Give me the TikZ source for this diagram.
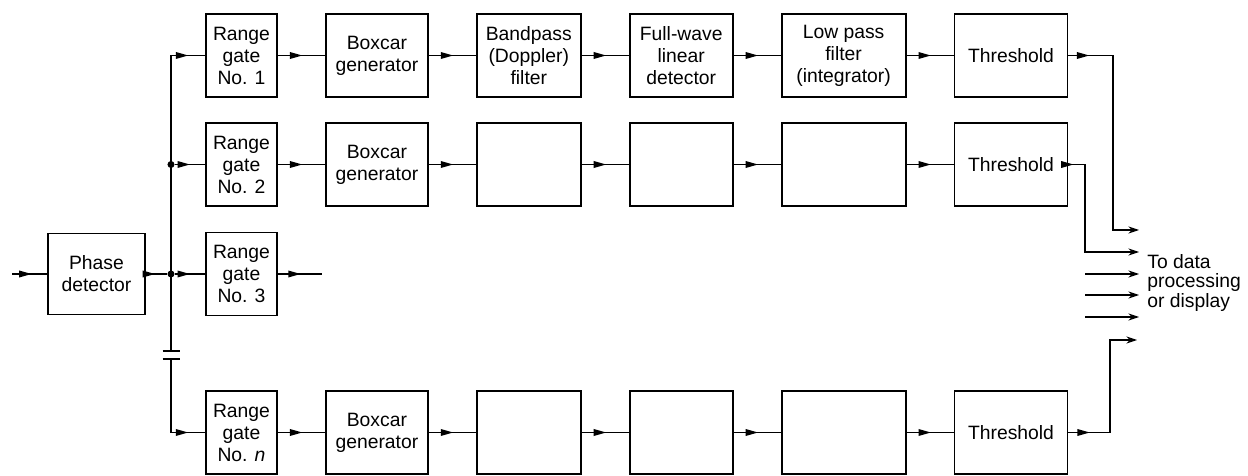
\documentclass[tikz,border=0pt]{standalone}
\usepackage{fontspec}
\setmainfont{Liberation Sans}
\usetikzlibrary{arrows.meta,positioning,shapes.geometric}
\tikzset{
  block/.style={rectangle,draw,line width=1.1pt,minimum height=1.66cm,align=center,inner sep=1pt,font=\fontsize{11}{12.5}\selectfont},
  gatebox/.style={block,minimum width=1.42cm},
  carbox/.style={block,minimum width=2.04cm},
  bandbox/.style={block,minimum width=2.08cm},
  wavebox/.style={block,minimum width=2.06cm},
  lowbox/.style={block,minimum width=2.48cm},
  thrbox/.style={block,minimum width=2.26cm},
  wire/.style={line width=0.7pt},
  tip/.style={isosceles triangle,isosceles triangle stretches,fill,draw=none,inner sep=0pt,minimum width=4pt,minimum height=7pt,anchor=apex,sloped,pos=#1},
  tip/.default=0.55,
  feed/.style={wire,-{Stealth[length=6pt,width=4pt]}},
  junction/.style={circle,fill,inner sep=0pt,minimum size=4pt},
}

\begin{document}
\begin{tikzpicture}[x=0.02cm, y=-0.02cm, node distance=0.94cm]
  \useasboundingbox (0,0) rectangle (1248,476);

  % Phase detector and gate bus
  \node[block, minimum width=1.94cm, minimum height=1.62cm] (phase) at (96.5,274) {Phase\\detector};
  \coordinate (in) at (12,274);
  \coordinate (bustop) at (171,55.5);
  \node[junction] (j2) at (171,164.5) {};
  \node[junction] (j3) at (171,274) {};
  \coordinate (brkA) at (171,351);
  \coordinate (brkB) at (171,359);
  \coordinate (busbot) at (171,432.5);

  % Range gates
  \node[gatebox] (gate1) at (241.5,55.5) {Range\\gate\\No. 1};
  \node[gatebox] (gate2) at (241.5,164.5) {Range\\gate\\No. 2};
  \node[gatebox] (gate3) at (241.5,274) {Range\\gate\\No. 3};
  \node[gatebox] (gaten) at (241.5,432.5) {Range\\gate\\No. \textit{n}};
  \coordinate (g3out) at (322,274);

  % Channel 1
  \node[carbox, right=of gate1] (car1) {Boxcar\\generator};
  \node[bandbox, right=of car1] (band1) {Bandpass\\(Doppler)\\filter};
  \node[wavebox, right=of band1] (wave1) {Full-wave\\linear\\detector};
  \node[lowbox, right=of wave1] (low1) {Low pass\\filter\\(integrator)};
  \node[thrbox, right=of low1] (thr1) {Threshold};

  % Channel 2
  \node[carbox, right=of gate2] (car2) {Boxcar\\generator};
  \node[bandbox, right=of car2] (band2) {};
  \node[wavebox, right=of band2] (wave2) {};
  \node[lowbox, right=of wave2] (low2) {};
  \node[thrbox, right=of low2] (thr2) {Threshold};

  % Channel n
  \node[carbox, right=of gaten] (carn) {Boxcar\\generator};
  \node[bandbox, right=of carn] (bandn) {};
  \node[wavebox, right=of bandn] (waven) {};
  \node[lowbox, right=of waven] (lown) {};
  \node[thrbox, right=of lown] (thrn) {Threshold};

  % Output side
  \coordinate (k1) at (1113,55.5);
  \coordinate (k2) at (1085,164.5);
  \coordinate (kn) at (1110,432.5);
  \coordinate (o1) at (1139,230);
  \coordinate (o2) at (1139,252);
  \coordinate (o3) at (1139,274);
  \coordinate (o4) at (1139,295);
  \coordinate (o5) at (1139,317);
  \coordinate (on) at (1137,340);
  \coordinate (s3) at (1085,274);
  \coordinate (s4) at (1085,295);
  \coordinate (s5) at (1085,317);
  \node[anchor=west, align=left, inner sep=0pt, font=\fontsize{11}{11}\selectfont] (dest) at (1147,283) {To data\\processing\\or display};

  % Input and bus
  \draw[wire] (in) -- node[tip=0.6]{} (phase.west);
  \draw[wire] (phase.east) -- node[tip=0.5]{} (j3);
  \draw[wire] (bustop) -- (brkA);
  \draw[wire] (brkB) -- (busbot);
  \draw[wire] ([xshift=-0.17cm]brkA) -- ([xshift=0.17cm]brkA);
  \draw[wire] ([xshift=-0.17cm]brkB) -- ([xshift=0.17cm]brkB);
  \draw[wire] (bustop) -- node[tip]{} (gate1.west);
  \draw[wire] (j2) -- node[tip]{} (gate2.west);
  \draw[wire] (j3) -- node[tip]{} (gate3.west);
  \draw[wire] (busbot) -- node[tip]{} (gaten.west);
  \draw[wire] (gate3.east) -- node[tip]{} (g3out);

  % Chains
  \draw[wire] (gate1.east) -- node[tip]{} (car1.west);
  \draw[wire] (car1.east) -- node[tip]{} (band1.west);
  \draw[wire] (band1.east) -- node[tip]{} (wave1.west);
  \draw[wire] (wave1.east) -- node[tip]{} (low1.west);
  \draw[wire] (low1.east) -- node[tip]{} (thr1.west);
  \draw[wire] (gate2.east) -- node[tip]{} (car2.west);
  \draw[wire] (car2.east) -- node[tip]{} (band2.west);
  \draw[wire] (band2.east) -- node[tip]{} (wave2.west);
  \draw[wire] (wave2.east) -- node[tip]{} (low2.west);
  \draw[wire] (low2.east) -- node[tip]{} (thr2.west);
  \draw[wire] (gaten.east) -- node[tip]{} (carn.west);
  \draw[wire] (carn.east) -- node[tip]{} (bandn.west);
  \draw[wire] (bandn.east) -- node[tip]{} (waven.west);
  \draw[wire] (waven.east) -- node[tip]{} (lown.west);
  \draw[wire] (lown.east) -- node[tip]{} (thrn.west);

  % To data processing
  \draw[wire] (thr1.east) -- node[tip=0.5]{} (k1);
  \draw[feed] (k1) |- (o1);
  \draw[wire] (thr2.east) -- node[tip=0.4]{} (k2);
  \draw[feed] (k2) |- (o2);
  \draw[feed] (s3) -- (o3);
  \draw[feed] (s4) -- (o4);
  \draw[feed] (s5) -- (o5);
  \draw[wire] (thrn.east) -- node[tip=0.55]{} (kn);
  \draw[feed] (kn) |- (on);
\end{tikzpicture}
\end{document}
